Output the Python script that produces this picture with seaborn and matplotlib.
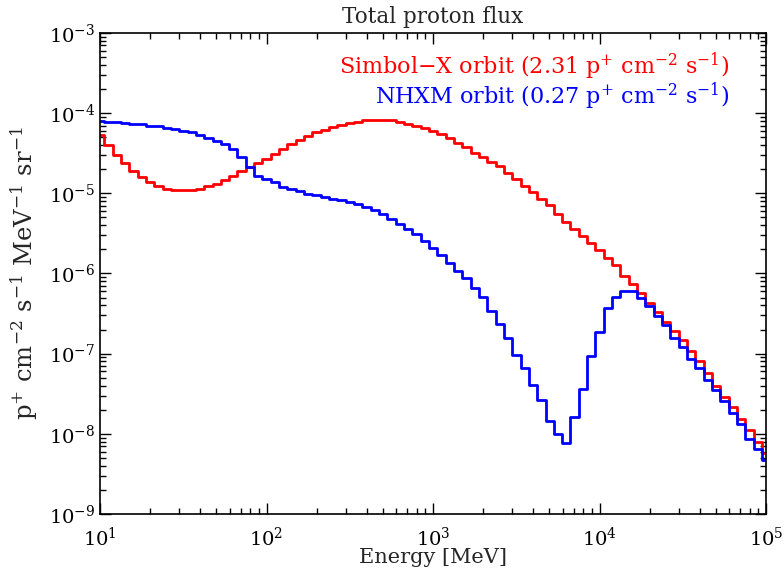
import numpy as np
import pandas as pd
import matplotlib
matplotlib.use("Agg")
import matplotlib.pyplot as plt
import seaborn as sns

# Energy grid: 20 points per decade, 10 MeV .. 100 GeV
energy_exp = [1 + i / 20 for i in range(81)]

# log10 flux values
simbolx_log = [
    -4.275, -4.392, -4.516, -4.621, -4.725, -4.796, -4.859, -4.904, -4.941, -4.954,
    -4.963, -4.954, -4.941, -4.913, -4.879, -4.838, -4.788, -4.725, -4.671, -4.616,
    -4.567, -4.509, -4.441, -4.384, -4.329, -4.284, -4.241, -4.209, -4.175, -4.150,
    -4.125, -4.104, -4.091, -4.088, -4.088, -4.091, -4.104, -4.129, -4.159, -4.191,
    -4.219, -4.266, -4.304, -4.366, -4.421, -4.496, -4.546, -4.609, -4.663, -4.741,
    -4.825, -4.913, -4.984, -5.066, -5.150, -5.254, -5.359, -5.441, -5.538, -5.625,
    -5.706, -5.804, -5.900, -6.025, -6.129, -6.246, -6.363, -6.484, -6.600, -6.713,
    -6.825, -6.963, -7.096, -7.246, -7.400, -7.538, -7.671, -7.816, -7.954, -8.096,
    -8.234,
]
nhxm_log = [
    -4.096, -4.104, -4.113, -4.121, -4.129, -4.141, -4.154, -4.166, -4.184, -4.200,
    -4.221, -4.241, -4.271, -4.304, -4.341, -4.388, -4.450, -4.546, -4.671, -4.788,
    -4.825, -4.859, -4.921, -4.950, -4.975, -5.004, -5.025, -5.046, -5.066, -5.088,
    -5.109, -5.138, -5.171, -5.213, -5.263, -5.316, -5.379, -5.441, -5.513, -5.600,
    -5.688, -5.769, -5.869, -5.963, -6.056, -6.179, -6.296, -6.463, -6.629, -6.804,
    -7.016, -7.179, -7.391, -7.575, -7.838, -7.996, -8.109, -7.788, -7.441, -7.034,
    -6.734, -6.434, -6.288, -6.221, -6.221, -6.309, -6.404, -6.529, -6.638, -6.809,
    -6.913, -7.066, -7.184, -7.325, -7.454, -7.588, -7.741, -7.879, -8.059, -8.191,
    -8.329,
]

labels = ["Simbol\u2212X orbit", "NHXM orbit"]
legend_texts = [
    r"Simbol$-$X orbit (2.31 p$^{+}$ cm$^{-2}$ s$^{-1}$)",
    r"NHXM orbit (0.27 p$^{+}$ cm$^{-2}$ s$^{-1}$)",
]
colors = ["#ff0000", "#0000ff"]

energy = 10.0 ** np.array(energy_exp)
df = pd.DataFrame({
    "energy": np.concatenate([energy, energy]),
    "flux": np.concatenate([10.0 ** np.array(simbolx_log), 10.0 ** np.array(nhxm_log)]),
    "orbit": [labels[0]] * len(energy) + [labels[1]] * len(energy),
})

sns.set_style("ticks")
plt.rcParams["font.family"] = ["DejaVu Serif"]
plt.rcParams["mathtext.fontset"] = "dejavuserif"
plt.rcParams["mathtext.default"] = "regular"

fig = plt.figure(figsize=(7.84, 5.69), dpi=100)
ax = fig.add_axes([100 / 784, 1 - 514 / 569, 666 / 784, 481 / 569])

sns.lineplot(data=df, x="energy", y="flux", hue="orbit", palette=colors,
             drawstyle="steps-mid", linewidth=2.0, estimator=None, sort=False,
             legend=False, ax=ax)

ax.set_xscale("log")
ax.set_yscale("log")
ax.set_xlim(10, 1e5)
ax.set_ylim(1e-9, 1e-3)

ax.xaxis.set_major_locator(matplotlib.ticker.LogLocator(base=10, numticks=10))
ax.xaxis.set_minor_locator(matplotlib.ticker.LogLocator(base=10, subs=np.arange(2, 10), numticks=20))
ax.yaxis.set_major_locator(matplotlib.ticker.LogLocator(base=10, numticks=10))
ax.yaxis.set_minor_locator(matplotlib.ticker.LogLocator(base=10, subs=np.arange(2, 10), numticks=20))
ax.xaxis.set_minor_formatter(matplotlib.ticker.NullFormatter())
ax.yaxis.set_minor_formatter(matplotlib.ticker.NullFormatter())

ax.tick_params(which="both", direction="in", top=True, right=True, width=1.0, colors="black")
ax.tick_params(which="major", length=8, labelsize=14)
ax.tick_params(axis="x", which="major", pad=9)
ax.tick_params(which="minor", length=4)
for s in ax.spines.values():
    s.set_linewidth(1.2)
    s.set_color("black")

ax.set_title("Total proton flux", fontsize=15.5, pad=7)
ax.set_xlabel("Energy [MeV]", fontsize=15, labelpad=-1)
ax.set_ylabel(r"p$^{+}$ cm$^{-2}$ s$^{-1}$ MeV$^{-1}$ sr$^{-1}$", fontsize=17.5, labelpad=6)

ypos = [0.93, 0.868]
for t, c, yp in zip(legend_texts, colors, ypos):
    ax.text(0.945, yp, t, color=c, fontsize=16, ha="right", va="center",
            transform=ax.transAxes)

fig.savefig("out.png", dpi=100)
